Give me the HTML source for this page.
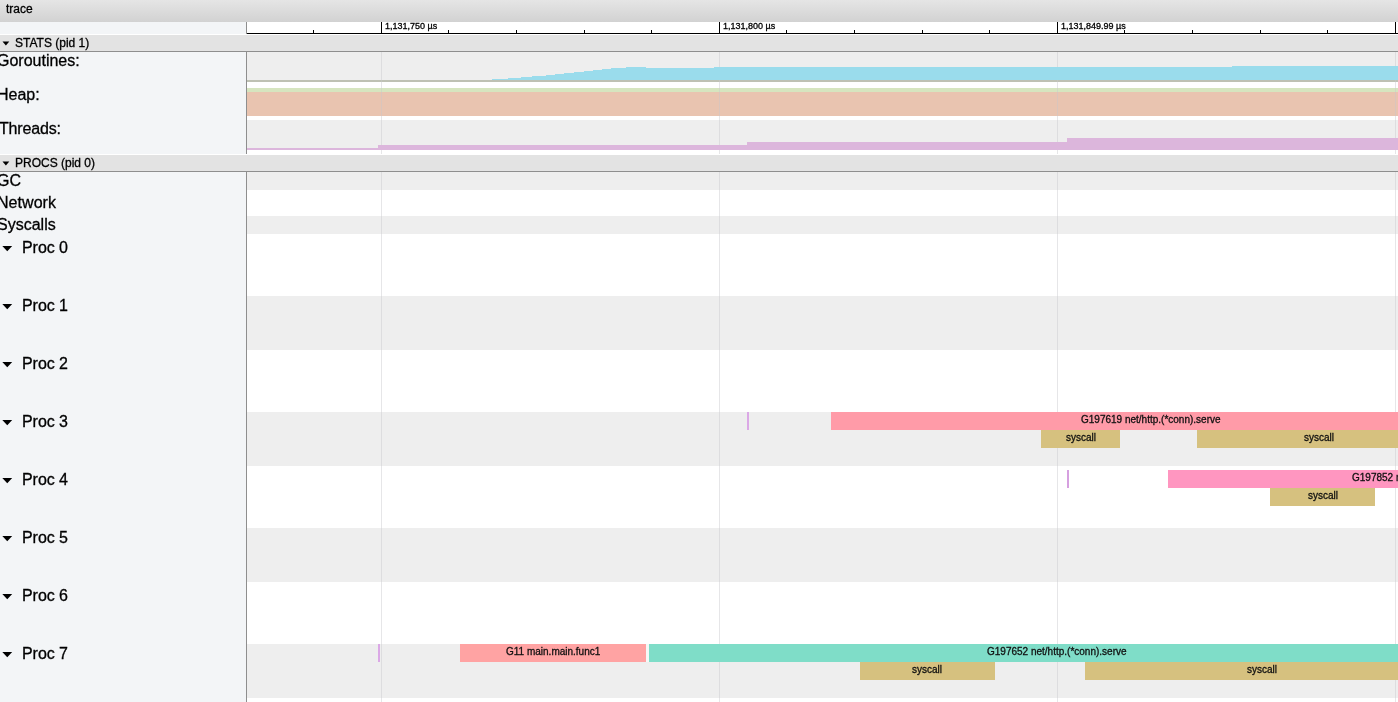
<!DOCTYPE html>
<html><head><meta charset="utf-8"><style>
html,body{margin:0;padding:0;}
body{width:1398px;height:702px;overflow:hidden;position:relative;background:#fff;font-family:"Liberation Sans",sans-serif;}
div,span.t{position:absolute;}
span.t{white-space:pre;will-change:transform;-webkit-text-stroke:0.3px currentColor;}
</style></head><body>
<div style="left:0px;top:0px;width:1398px;height:22px;background:linear-gradient(#e5e5e5,#d2d2d2);"></div>
<span class="t" style="left:6px;top:2.69px;font-size:12px;line-height:12px;color:#000;">trace</span>
<div style="left:0px;top:22px;width:246px;height:680px;background:#f3f5f7;"></div>
<div style="left:247px;top:22px;width:1151px;height:11px;background:#fff;"></div>
<div style="left:246px;top:22px;width:1px;height:12px;background:#8e8e8e;"></div>
<div style="left:247px;top:33px;width:1151px;height:1px;background:#000;"></div>
<div style="left:0px;top:34px;width:1398px;height:1px;background:#fff;"></div>
<div style="left:381px;top:22px;width:1px;height:11px;background:#000;"></div>
<div style="left:719px;top:22px;width:1px;height:11px;background:#000;"></div>
<div style="left:1057px;top:22px;width:1px;height:11px;background:#000;"></div>
<div style="left:1395px;top:22px;width:1px;height:11px;background:#000;"></div>
<div style="left:313px;top:30px;width:1px;height:3px;background:#000;"></div>
<div style="left:448px;top:30px;width:1px;height:3px;background:#000;"></div>
<div style="left:516px;top:30px;width:1px;height:3px;background:#000;"></div>
<div style="left:584px;top:30px;width:1px;height:3px;background:#000;"></div>
<div style="left:651px;top:30px;width:1px;height:3px;background:#000;"></div>
<div style="left:786px;top:30px;width:1px;height:3px;background:#000;"></div>
<div style="left:854px;top:30px;width:1px;height:3px;background:#000;"></div>
<div style="left:922px;top:30px;width:1px;height:3px;background:#000;"></div>
<div style="left:989px;top:30px;width:1px;height:3px;background:#000;"></div>
<div style="left:1124px;top:30px;width:1px;height:3px;background:#000;"></div>
<div style="left:1192px;top:30px;width:1px;height:3px;background:#000;"></div>
<div style="left:1260px;top:30px;width:1px;height:3px;background:#000;"></div>
<div style="left:1327px;top:30px;width:1px;height:3px;background:#000;"></div>
<span class="t" style="left:384.5px;top:22.28px;font-size:9px;line-height:9px;color:#000;">1,131,750 µs</span>
<span class="t" style="left:722.5px;top:22.28px;font-size:9px;line-height:9px;color:#000;">1,131,800 µs</span>
<span class="t" style="left:1060.5px;top:22.28px;font-size:9px;line-height:9px;color:#000;">1,131,849.99 µs</span>
<div style="left:0px;top:35px;width:1398px;height:16px;background:#e3e3e3;"></div>
<div style="left:0px;top:51px;width:1398px;height:1px;background:#8e8e8e;"></div>
<svg style="position:absolute;left:0;top:0" width="20" height="60"><polygon points="2.5,41.6 9.3,41.6 5.9,45.4" fill="#000"/></svg>
<span class="t" style="left:15px;top:36.64px;font-size:12px;line-height:12px;color:#000;">STATS (pid 1)</span>
<div style="left:246px;top:52px;width:1px;height:102px;background:#8e8e8e;"></div>
<div style="left:247px;top:52px;width:1151px;height:28px;background:#eeeeee;"></div>
<div style="left:247px;top:80px;width:1151px;height:2px;background:#bec1b3;"></div>
<div style="left:247px;top:88px;width:1151px;height:4px;background:#d6e5bf;"></div>
<div style="left:247px;top:92px;width:1151px;height:24px;background:#e9c4b0;"></div>
<div style="left:247px;top:120px;width:1151px;height:30px;background:#eeeeee;"></div>
<span class="t" style="left:-3.2px;top:53.06px;font-size:16px;line-height:16px;color:#000;">Goroutines:</span>
<span class="t" style="left:-3.5px;top:86.86px;font-size:16px;line-height:16px;color:#000;">Heap:</span>
<span class="t" style="left:-1.2px;top:121.06px;font-size:16px;line-height:16px;color:#000;letter-spacing:-0.17px;">Threads:</span>
<div style="left:381px;top:52px;width:1px;height:102px;background:rgba(200,200,205,0.45);"></div>
<div style="left:719px;top:52px;width:1px;height:102px;background:rgba(200,200,205,0.45);"></div>
<div style="left:1057px;top:52px;width:1px;height:102px;background:rgba(200,200,205,0.45);"></div>
<div style="left:1395px;top:52px;width:1px;height:102px;background:rgba(200,200,205,0.45);"></div>
<svg style="position:absolute;left:0;top:0" width="1398" height="160" shape-rendering="crispEdges"><polygon points="491.7,80 491.7,79 508,79 508,78 521,78 521,77 532,77 532,76 546,76 546,75 555,75 555,74 564,74 564,73 574,73 574,72 584,72 584,71 593,71 593,70 602,70 602,69 611,69 611,68 625.5,68 625.5,67 645.8,67 645.8,68 714,68 714,67 1232,67 1232,66 1398,66 1398,80" fill="#9adcec"/><polygon points="247,148 378,148 378,145 747,145 747,142 1067,142 1067,138 1398,138 1398,150 247,150" fill="#dcb6dc"/></svg>
<div style="left:0px;top:154px;width:1398px;height:1px;background:#fff;"></div>
<div style="left:0px;top:155px;width:1398px;height:16px;background:#e3e3e3;"></div>
<div style="left:0px;top:171px;width:1398px;height:1px;background:#8e8e8e;"></div>
<svg style="position:absolute;left:0;top:0" width="20" height="180"><polygon points="2.5,161.6 9.3,161.6 5.9,165.4" fill="#000"/></svg>
<span class="t" style="left:15px;top:156.74px;font-size:12px;line-height:12px;color:#000;">PROCS (pid 0)</span>
<div style="left:246px;top:172px;width:1px;height:530px;background:#8e8e8e;"></div>
<div style="left:247px;top:172px;width:1151px;height:18px;background:#eeeeee;"></div>
<div style="left:247px;top:190px;width:1151px;height:26px;background:#fff;"></div>
<div style="left:247px;top:216px;width:1151px;height:18px;background:#eeeeee;"></div>
<div style="left:247px;top:234px;width:1151px;height:62px;background:#fff;"></div>
<div style="left:247px;top:296px;width:1151px;height:54px;background:#eeeeee;"></div>
<div style="left:247px;top:350px;width:1151px;height:62px;background:#fff;"></div>
<div style="left:247px;top:412px;width:1151px;height:54px;background:#eeeeee;"></div>
<div style="left:247px;top:466px;width:1151px;height:62px;background:#fff;"></div>
<div style="left:247px;top:528px;width:1151px;height:54px;background:#eeeeee;"></div>
<div style="left:247px;top:582px;width:1151px;height:62px;background:#fff;"></div>
<div style="left:247px;top:644px;width:1151px;height:54px;background:#eeeeee;"></div>
<div style="left:247px;top:698px;width:1151px;height:4px;background:#fff;"></div>
<span class="t" style="left:-3px;top:173.06px;font-size:16px;line-height:16px;color:#000;">GC</span>
<span class="t" style="left:-2.6px;top:195.06px;font-size:16px;line-height:16px;color:#000;letter-spacing:0.05px;">Network</span>
<span class="t" style="left:-3.2px;top:217.06px;font-size:16px;line-height:16px;color:#000;">Syscalls</span>
<span class="t" style="left:21.5px;top:240.36px;font-size:16px;line-height:16px;color:#000;letter-spacing:-0.05px;">Proc 0</span>
<span class="t" style="left:21.5px;top:298.36px;font-size:16px;line-height:16px;color:#000;letter-spacing:-0.05px;">Proc 1</span>
<span class="t" style="left:21.5px;top:356.36px;font-size:16px;line-height:16px;color:#000;letter-spacing:-0.05px;">Proc 2</span>
<span class="t" style="left:21.5px;top:414.36px;font-size:16px;line-height:16px;color:#000;letter-spacing:-0.05px;">Proc 3</span>
<span class="t" style="left:21.5px;top:472.36px;font-size:16px;line-height:16px;color:#000;letter-spacing:-0.05px;">Proc 4</span>
<span class="t" style="left:21.5px;top:530.36px;font-size:16px;line-height:16px;color:#000;letter-spacing:-0.05px;">Proc 5</span>
<span class="t" style="left:21.5px;top:588.36px;font-size:16px;line-height:16px;color:#000;letter-spacing:-0.05px;">Proc 6</span>
<span class="t" style="left:21.5px;top:646.36px;font-size:16px;line-height:16px;color:#000;letter-spacing:-0.05px;">Proc 7</span>
<svg style="position:absolute;left:0;top:0" width="20" height="702"><polygon points="2.3,246.00 12.2,246.00 7.25,251.30" fill="#000"/><polygon points="2.3,304.00 12.2,304.00 7.25,309.30" fill="#000"/><polygon points="2.3,362.00 12.2,362.00 7.25,367.30" fill="#000"/><polygon points="2.3,420.00 12.2,420.00 7.25,425.30" fill="#000"/><polygon points="2.3,478.00 12.2,478.00 7.25,483.30" fill="#000"/><polygon points="2.3,536.00 12.2,536.00 7.25,541.30" fill="#000"/><polygon points="2.3,594.00 12.2,594.00 7.25,599.30" fill="#000"/><polygon points="2.3,652.00 12.2,652.00 7.25,657.30" fill="#000"/></svg>
<div style="left:381px;top:172px;width:1px;height:530px;background:rgba(200,200,205,0.45);"></div>
<div style="left:719px;top:172px;width:1px;height:530px;background:rgba(200,200,205,0.45);"></div>
<div style="left:1057px;top:172px;width:1px;height:530px;background:rgba(200,200,205,0.45);"></div>
<div style="left:1395px;top:172px;width:1px;height:530px;background:rgba(200,200,205,0.45);"></div>
<div style="left:747px;top:412px;width:2px;height:18px;background:#dba8e6;"></div>
<div style="left:831px;top:412px;width:567px;height:18px;background:#ff9ba8;"></div>
<span class="t" style="left:1080.8px;top:414.84px;font-size:10px;line-height:10px;color:#111;">G197619 net/http.(*conn).serve</span>
<div style="left:1041px;top:430px;width:79px;height:18px;background:#d6c17f;"></div>
<span class="t" style="left:1065.5px;top:432.84px;font-size:10px;line-height:10px;color:#111;">syscall</span>
<div style="left:1197px;top:430px;width:201px;height:18px;background:#d6c17f;"></div>
<span class="t" style="left:1304px;top:432.84px;font-size:10px;line-height:10px;color:#111;">syscall</span>
<div style="left:1067px;top:470px;width:1.5px;height:18px;background:#d6a0e0;"></div>
<div style="left:1168px;top:470px;width:230px;height:18px;background:#ff96c0;"></div>
<span class="t" style="left:1351.8px;top:472.84px;font-size:10px;line-height:10px;color:#111;">G197852 net/http.(*conn).serve</span>
<div style="left:1270px;top:488px;width:105px;height:18px;background:#d6c17f;"></div>
<span class="t" style="left:1307.5px;top:490.84px;font-size:10px;line-height:10px;color:#111;">syscall</span>
<div style="left:378px;top:644px;width:2px;height:18px;background:#dba8e6;"></div>
<div style="left:460px;top:644px;width:186px;height:18px;background:#ffa3a3;"></div>
<span class="t" style="left:505.5px;top:646.83px;font-size:10px;line-height:10px;color:#111;">G11 main.main.func1</span>
<div style="left:646px;top:644px;width:3px;height:18px;background:#f5f8f7;"></div>
<div style="left:649px;top:644px;width:749px;height:18px;background:#7fddc8;"></div>
<span class="t" style="left:987px;top:646.83px;font-size:10px;line-height:10px;color:#111;">G197652 net/http.(*conn).serve</span>
<div style="left:860px;top:662px;width:135px;height:18px;background:#d6c17f;"></div>
<span class="t" style="left:912.3px;top:664.83px;font-size:10px;line-height:10px;color:#111;">syscall</span>
<div style="left:1085px;top:662px;width:313px;height:18px;background:#d6c17f;"></div>
<span class="t" style="left:1246.6px;top:664.83px;font-size:10px;line-height:10px;color:#111;">syscall</span>
</body></html>
